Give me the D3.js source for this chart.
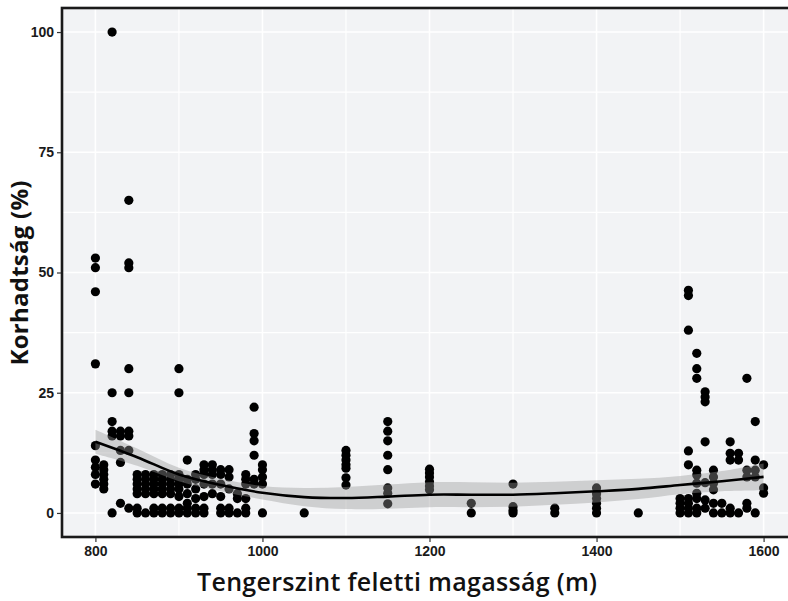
<!DOCTYPE html>
<html>
<head>
<meta charset="utf-8">
<script src="https://cdn.jsdelivr.net/npm/d3@7"></script>
<style>
  body { margin: 0; background: #fff; }
  svg { display: block; }
</style>
</head>
<body>
<div class="chart"></div>
<script>
// elevation columns (m) and decay values (%) measured at each
var elevations = [800, 810, 820, 830, 840, 850, 860, 870, 880, 890, 900, 910, 920, 930, 940, 950, 960, 970, 980, 990, 1000,
  1050, 1100, 1150, 1200, 1250, 1300, 1350, 1400, 1450,
  1500, 1510, 1520, 1530, 1540, 1550, 1560, 1570, 1580, 1590, 1600];
var decayValues = [
  [53, 51, 46, 31, 14, 11, 9.5, 8, 6],
  [10, 9, 8, 7, 6, 5],
  [100, 25, 19, 17, 16, 0],
  [17, 16, 13, 10.5, 2],
  [65, 52, 51, 30, 25, 17, 16, 13, 1],
  [8, 7, 6, 5, 4, 1, 0],
  [8, 7, 6, 5, 4, 0],
  [8, 7, 6, 5, 4, 1, 0],
  [8, 7, 6, 5, 4, 1, 0],
  [8, 7, 6, 5, 4, 1, 0],
  [30, 25, 8, 7, 6, 5, 3.4, 1, 0],
  [11, 7, 6, 4, 2, 1, 0],
  [8, 7, 5, 3, 1, 0],
  [10, 9, 8, 6, 3.4, 1, 0],
  [10, 9, 8, 6, 4],
  [9, 8, 6, 3.4, 1, 0],
  [9, 7.5, 5, 1, 0],
  [4, 3, 0],
  [8, 7, 6, 3, 1, 0],
  [22, 16.5, 15, 12, 7, 6],
  [10, 9, 7.5, 6, 0],
  [0],
  [13, 12, 11, 10, 9.3, 7.3, 5.8],
  [19, 17, 15, 12, 9, 5.2, 4.1, 1.9],
  [9.1, 8.3, 7.5, 6.5, 5.6, 4.8],
  [2, 0],
  [6, 1.3, 0.5, 0],
  [1, 0],
  [5.2, 4, 3, 2, 1, 0],
  [0],
  [3, 2, 1, 0],
  [46.3, 45.2, 38, 12.9, 10, 3, 2, 1, 0],
  [33.2, 30, 28, 8.9, 7.9, 6.2, 4.1, 3, 1, 0],
  [25.2, 24.1, 23.1, 14.8, 6.3, 2.7, 1],
  [8.9, 7.5, 6.2, 4.8, 2, 0],
  [2, 0],
  [14.8, 12.4, 11, 1, 0],
  [12.4, 11, 0],
  [28, 8.9, 7.5, 2, 1],
  [19, 11, 8.9, 7.5, 0],
  [10, 5.2, 4.1]
];

// loess smooth and its confidence band
var smoothX = [800, 850, 900, 950, 1000, 1050, 1100, 1150, 1200, 1250, 1300, 1350, 1400, 1450, 1500, 1550, 1600];
var smoothY = [14.8, 11.6, 8.0, 5.8, 4.2, 3.3, 3.1, 3.4, 3.8, 3.8, 3.8, 4.1, 4.5, 5.0, 5.8, 6.6, 7.5];
var smoothSE = [2.5, 1.8, 1.4, 1.3, 1.4, 1.9, 2.3, 2.5, 2.6, 2.6, 2.5, 2.4, 2.3, 2.1, 1.9, 2.1, 2.8];

var xTicks = [800, 1000, 1200, 1400, 1600];
var xMinor = [900, 1100, 1300, 1500];
var yTicks = [0, 25, 50, 75, 100];
var yMinor = [12.5, 37.5, 62.5, 87.5];

var width = 788, height = 601;
var panel = {left: 62, right: 797, top: 8, bottom: 537};

var svg = d3.select(".chart").append("svg")
  .attr("width", width)
  .attr("height", height);

var x = d3.scaleLinear().domain([760, 1640]).range([panel.left, panel.right]);
var y = d3.scaleLinear().domain([-5, 105]).range([panel.bottom, panel.top]);

// panel background
svg.append("rect")
  .attr("x", panel.left).attr("y", panel.top)
  .attr("width", panel.right - panel.left)
  .attr("height", panel.bottom - panel.top)
  .attr("fill", "#F2F3F5");

var grid = svg.append("g");
grid.selectAll(".vminor").data(xMinor).enter().append("line")
  .attr("x1", d => x(d)).attr("x2", d => x(d))
  .attr("y1", panel.top).attr("y2", panel.bottom)
  .attr("stroke", "#fff").attr("stroke-width", 1.2);
grid.selectAll(".hminor").data(yMinor).enter().append("line")
  .attr("y1", d => y(d)).attr("y2", d => y(d))
  .attr("x1", panel.left).attr("x2", panel.right)
  .attr("stroke", "#fff").attr("stroke-width", 1.2);
grid.selectAll(".vmajor").data(xTicks).enter().append("line")
  .attr("x1", d => x(d)).attr("x2", d => x(d))
  .attr("y1", panel.top).attr("y2", panel.bottom)
  .attr("stroke", "#fff").attr("stroke-width", 1.6);
grid.selectAll(".hmajor").data(yTicks).enter().append("line")
  .attr("y1", d => y(d)).attr("y2", d => y(d))
  .attr("x1", panel.left).attr("x2", panel.right)
  .attr("stroke", "#fff").attr("stroke-width", 1.6);

// points
var points = [];
elevations.forEach(function(e, i) {
  decayValues[i].forEach(function(v) { points.push({x: e, y: v}); });
});

svg.append("g").selectAll("circle")
  .data(points)
  .enter().append("circle")
  .attr("cx", d => x(d.x))
  .attr("cy", d => y(d.y))
  .attr("r", 4.6)
  .attr("fill", "#000");

// smooth band + line
var smooth = smoothX.map(function(d, i) {
  return {x: d, y: smoothY[i], lo: smoothY[i] - smoothSE[i], hi: smoothY[i] + smoothSE[i]};
});

svg.append("path")
  .datum(smooth)
  .attr("fill", "#999")
  .attr("fill-opacity", 0.4)
  .attr("d", d3.area()
    .curve(d3.curveCatmullRom)
    .x(d => x(d.x))
    .y0(d => y(d.lo))
    .y1(d => y(d.hi)));

svg.append("path")
  .datum(smooth)
  .attr("fill", "none")
  .attr("stroke", "#000")
  .attr("stroke-width", 2.6)
  .attr("d", d3.line()
    .curve(d3.curveCatmullRom)
    .x(d => x(d.x))
    .y(d => y(d.y)));

// border
svg.append("rect")
  .attr("x", panel.left).attr("y", panel.top)
  .attr("width", panel.right - panel.left)
  .attr("height", panel.bottom - panel.top)
  .attr("fill", "none")
  .attr("stroke", "#1a1a1a")
  .attr("stroke-width", 2.6);

// axes
var xAxis = svg.append("g")
  .attr("transform", "translate(0," + (panel.bottom + 1) + ")")
  .call(d3.axisBottom(x).tickValues(xTicks).tickFormat(d3.format("d")).tickSize(4).tickPadding(4));
var yAxis = svg.append("g")
  .attr("transform", "translate(" + (panel.left - 1) + ",0)")
  .call(d3.axisLeft(y).tickValues(yTicks).tickFormat(d3.format("d")).tickSize(4).tickPadding(3));

[xAxis, yAxis].forEach(function(a) {
  a.select(".domain").remove();
  a.selectAll(".tick line").attr("stroke", "#333").attr("stroke-width", 1.2);
  a.selectAll(".tick text")
    .attr("fill", "#1a1a1a")
    .style("font-family", "'Liberation Sans Narrow', 'Arial Narrow', 'Liberation Sans', Arial, sans-serif")
    .style("font-weight", "bold")
    .style("font-size", "14px");
});

svg.append("text")
  .attr("x", 397).attr("y", 591)
  .attr("text-anchor", "middle")
  .attr("textLength", 400)
  .attr("lengthAdjust", "spacing")
  .style("font-family", "'Open Sans', 'Noto Sans', sans-serif")
  .style("font-weight", "600")
  .style("font-size", "25px")
  .attr("fill", "#111")
  .text("Tengerszint feletti magasság (m)");

svg.append("text")
  .attr("transform", "translate(28,273) rotate(-90)")
  .attr("text-anchor", "middle")
  .attr("textLength", 185)
  .attr("lengthAdjust", "spacing")
  .style("font-family", "'Open Sans', 'Noto Sans', sans-serif")
  .style("font-weight", "700")
  .style("font-size", "24px")
  .attr("fill", "#111")
  .text("Korhadtság (%)");
</script>
</body>
</html>
